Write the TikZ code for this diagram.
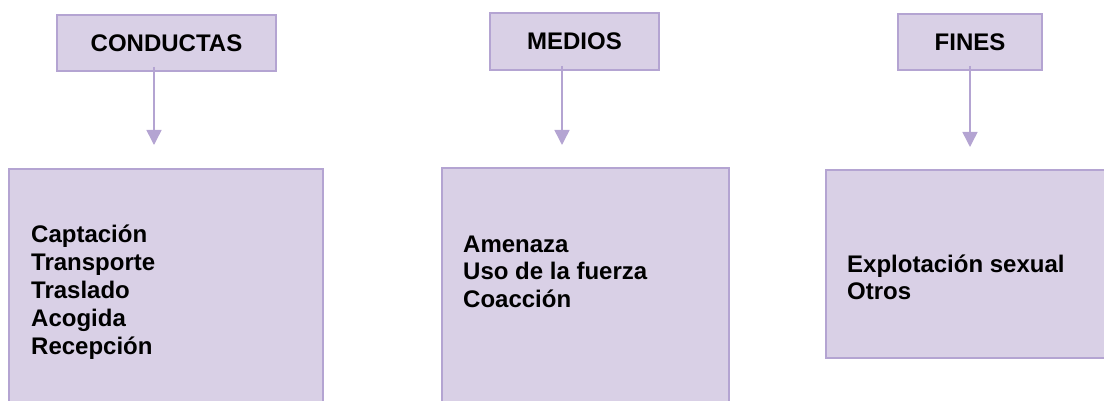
\documentclass[tikz,border=0pt]{standalone}
\usepackage{fontspec}
\setmainfont{Liberation Sans}
\usetikzlibrary{positioning, arrows.meta}
\definecolor{boxFill}{RGB}{217,208,230}
\definecolor{boxLine}{RGB}{180,164,210}
\tikzstyle{pixelGrid} = [x = 1pt, y = -1pt]
\tikzstyle{headerStyle} = [draw=boxLine, fill=boxFill, line width=2pt, inner sep=0pt, font=\fontsize{24}{28}\selectfont\bfseries]
\tikzstyle{listBoxStyle} = [draw=boxLine, fill=boxFill, line width=2pt, inner sep=0pt]
\tikzstyle{itemText} = [anchor=base west, inner sep=0pt, font=\fontsize{24}{28}\selectfont\bfseries]
\tikzstyle{arrowLine} = [draw=boxLine, line width=1.5pt, -{Triangle[width=15pt, length=15pt]}]
\newcommand{\itemSkip}{27.8}
\newcommand{\headerBox}[6]{\node [headerStyle, minimum width=#4pt, minimum height=#5pt] (#1) at (#2, #3) {#6};}
\newcommand{\listBox}[5]{\node [listBoxStyle, minimum width=#4pt, minimum height=#5pt] (#1) at (#2, #3) {};}
\newcommand{\itemLines}[4]{
  \foreach \itemName [count=\n] in {#4} {
    \node [itemText] (#1\n) at (#2, {#3 + \itemSkip * (\n - 1)}) {\itemName};
  }
}
\newcommand{\downArrow}[2]{\draw [arrowLine] ([yshift=5pt]#2 |- #1.south) -- (#2);}

\begin{document}
\begin{tikzpicture}[pixelGrid]
  \useasboundingbox (0,0) rectangle (1104,401);

  % headers
  \headerBox{conductas}{166.5}{43}{219}{56}{CONDUCTAS}
  \headerBox{medios}{574.5}{41.5}{169}{57}{MEDIOS}
  \headerBox{fines}{970}{42}{144}{56}{FINES}

  % lists
  \listBox{conductasList}{166}{294.5}{314}{251}
  \listBox{mediosList}{585.5}{294}{287}{252}
  \listBox{finesList}{969}{264}{286}{188}
  \itemLines{conductasItem}{31}{243}{Captación, Transporte, Traslado, Acogida, Recepción}
  \itemLines{mediosItem}{463}{252}{Amenaza, Uso de la fuerza, Coacción}
  \itemLines{finesItem}{847}{272}{Explotación sexual, Otros}

  % arrows
  \coordinate (conductasTip) at (154, 145);
  \coordinate (mediosTip) at (562, 145);
  \coordinate (finesTip) at (970, 147);
  \downArrow{conductas}{conductasTip}
  \downArrow{medios}{mediosTip}
  \downArrow{fines}{finesTip}
\end{tikzpicture}
\end{document}
